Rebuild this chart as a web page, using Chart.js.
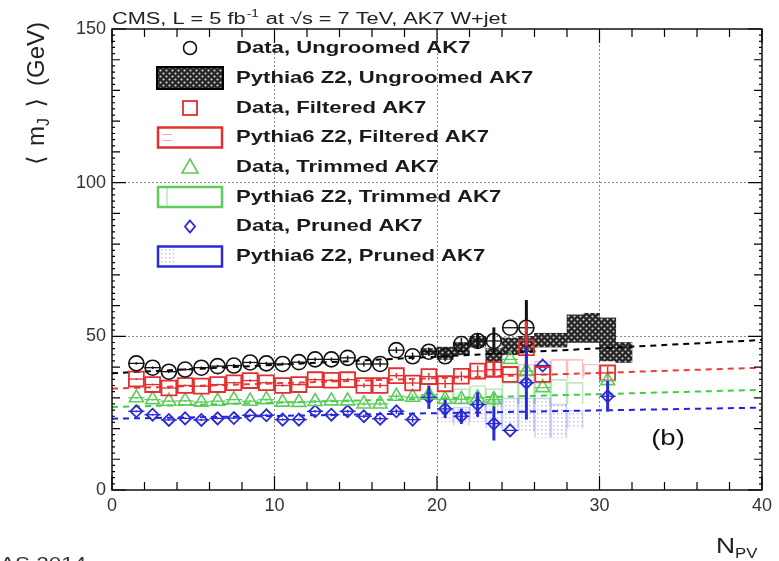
<!DOCTYPE html>
<html><head><meta charset="utf-8">
<script src="https://cdn.jsdelivr.net/npm/chart.js@4/dist/chart.umd.min.js"></script>
<style>html,body{margin:0;padding:0;background:#fff;}#wrap{width:779px;height:561px;position:relative;}</style>
</head><body><div id="wrap"><canvas id="c" width="779" height="561"></canvas></div>
<script>
// ---------------- data ----------------
const xTicks = [0, 10, 20, 30, 40];
const yTicks = [0, 50, 100, 150];

const npvUngroomed = [1.5,2.5,3.5,4.5,5.5,6.5,7.5,8.5,9.5,10.5,11.5,12.5,13.5,14.5,15.5,16.5,17.5,18.5,19.5,20.5,21.5,22.5,23.5,24.5,25.5];
const ungroomedData = [41.2,39.8,38.5,39.2,39.8,40.3,40.5,41.5,41.2,41.0,41.6,42.5,42.5,43.0,41.0,41.0,45.5,43.5,45.0,43.5,47.5,48.5,48.5,52.8,52.8];
const ungroomedErr  = [0.4,0.4,0.4,0.4,0.4,0.4,0.5,0.5,0.5,0.5,0.5,0.6,0.6,0.7,0.8,0.9,1.0,1.2,1.4,1.6,2.0,2.5,4.4,0,9.0];

const npvGroomed = [1.5,2.5,3.5,4.5,5.5,6.5,7.5,8.5,9.5,10.5,11.5,12.5,13.5,14.5,15.5,16.5,17.5,18.5,19.5,20.5,21.5,22.5,23.5,24.5,25.5,26.5,30.5];
const filteredData = [36.1,34.3,33.2,34.0,33.8,34.3,34.9,35.6,34.9,34.0,34.3,35.9,35.7,35.9,34.0,34.0,37.2,34.8,36.9,34.6,37.0,38.7,39.2,37.6,46.3,37.6,38.1];
const filteredErr  = [0.3,0.3,0.3,0.3,0.3,0.3,0.3,0.4,0.4,0.4,0.4,0.5,0.5,0.6,0.7,0.8,0.9,1.0,1.2,1.4,1.6,1.8,2.2,0,8.7,0,2.0];
const trimmedData  = [30.0,29.4,28.9,29.0,28.6,28.9,29.4,28.9,29.4,28.6,28.5,28.8,29.0,29.0,28.0,28.0,30.5,30.2,31.0,29.5,29.5,30.0,29.4,42.5,38.7,33.3,35.6];
const trimmedErr   = [0.3,0.3,0.3,0.3,0.3,0.3,0.3,0.3,0.4,0.4,0.4,0.5,0.5,0.5,0.6,0.7,0.8,1.0,1.2,1.4,1.6,2.0,2.5,0,3.0,0,2.0];
const prunedData   = [25.6,24.5,22.8,23.3,22.8,23.3,23.4,24.3,24.3,22.9,22.9,25.6,24.5,25.6,24.0,23.2,25.6,22.9,30.2,26.4,24.0,27.8,21.6,19.4,34.9,40.5,30.5];
const prunedErr    = [0.3,0.3,0.3,0.3,0.3,0.3,0.3,0.3,0.4,0.4,0.4,0.4,0.5,0.5,0.6,0.7,0.8,1.0,3.8,3.0,2.5,4.0,5.5,0,12.0,0,5.0];

// Pythia6 Z2 bands (low / high edge per NPV bin)
const mcBins = [19.5,20.5,21.5,22.5,23.5,24.5,25.5,26.5,27.5,28.5,29.5,30.5,31.5];
const mcUngroomedLo = [44.0,42.5,44.0,46.5,41.5,44.0,45.0,46.5,46.5,48.0,48.0,42.0,41.5];
const mcUngroomedHi = [46.0,46.5,48.0,50.0,46.0,49.5,50.0,51.0,51.0,57.0,57.5,56.0,48.0];
const mcFilteredLo  = [null,null,null,null,37.0,36.0,36.0,37.0,37.0,36.0,37.0,null,null];
const mcFilteredHi  = [null,null,null,null,39.0,40.0,41.0,42.0,42.5,42.5,41.0,null,null];
const mcTrimmedLo   = [29.0,28.0,28.0,28.0,27.0,28.0,28.0,28.0,27.0,28.0,null,null,null];
const mcTrimmedHi   = [31.0,32.0,33.0,34.0,33.0,35.0,36.0,35.0,36.0,35.0,null,null,null];
const mcPrunedLo    = [null,22.0,21.0,22.0,20.0,20.0,19.0,17.0,17.0,20.0,null,null,null];
const mcPrunedHi    = [null,26.0,27.0,28.0,29.0,30.0,30.0,30.0,28.0,26.0,null,null,null];

// linear fits (value at NPV=0 and NPV=40)
const fitUngroomed = [38.0, 48.8];
const fitFiltered  = [33.0, 39.8];
const fitTrimmed   = [27.0, 32.6];
const fitPruned    = [23.2, 26.8];

const legendLabels = ['Data, Ungroomed AK7','Pythia6 Z2, Ungroomed AK7','Data, Filtered AK7','Pythia6 Z2, Filtered AK7','Data, Trimmed AK7','Pythia6 Z2, Trimmed AK7','Data, Pruned AK7','Pythia6 Z2, Pruned AK7'];

// ---------------- styles ----------------
const C_BLACK = '#111', C_RED = '#e23030', C_GREEN = '#5ccc5c', C_BLUE = '#2a2ad6';
const FIT_RED = '#f03a3a', FIT_GREEN = '#3ad23a', FIT_BLUE = '#2222e6';
const FONT = '"Liberation Sans", Arial, sans-serif';

const cv = document.getElementById('c');
const mainCtx = cv.getContext('2d');
function makePattern(draw, w, h) {
  const c = document.createElement('canvas'); c.width = w; c.height = h;
  const g = c.getContext('2d'); draw(g); return mainCtx.createPattern(c, 'repeat');
}
const hatch = makePattern(g => {
  g.fillStyle = '#262626'; g.fillRect(0,0,6,6);
  g.fillStyle = '#d8d8d8';
  g.beginPath(); g.arc(1.5,1.5,1.1,0,7); g.fill();
  g.beginPath(); g.arc(4.5,4.5,1.1,0,7); g.fill();
}, 6, 6);
const blueDots = makePattern(g => {
  g.fillStyle = 'rgba(120,120,230,0.45)'; g.fillRect(1,1,1.5,1.5);
}, 4, 4);

function pts(xs, ys) { return xs.map((x,i)=>({x, y: ys[i]})).filter(p => p.y != null); }
function band(xs, lo, hi) { return xs.map((x,i)=>({x, y:[lo[i], hi[i]]})).filter(p => p.y[0] != null); }
function fit(f) { return [{x:0, y:f[0]}, {x:40, y:f[1]}]; }

const barCommon = {type:'bar', grouped:false, barPercentage:1, categoryPercentage:1, order:10};
const datasets = [
  Object.assign({}, barCommon, {label:'mcU', data: band(mcBins, mcUngroomedLo, mcUngroomedHi), backgroundColor: hatch, borderWidth:0}),
  Object.assign({}, barCommon, {label:'mcP', data: band(mcBins, mcPrunedLo, mcPrunedHi), backgroundColor: blueDots, borderColor:'rgba(120,120,235,0.35)', borderWidth:1}),
  Object.assign({}, barCommon, {label:'mcT', data: band(mcBins, mcTrimmedLo, mcTrimmedHi), backgroundColor:'rgba(0,0,0,0)', borderColor:'rgba(90,200,90,0.4)', borderWidth:1}),
  Object.assign({}, barCommon, {label:'mcF', data: band(mcBins, mcFilteredLo, mcFilteredHi), backgroundColor:'rgba(0,0,0,0)', borderColor:'rgba(235,90,90,0.35)', borderWidth:1}),
  {type:'line', label:'fitU', data: fit(fitUngroomed), borderColor:'#000', borderDash:[6,5], borderWidth:2, pointRadius:0, order:5},
  {type:'line', label:'fitF', data: fit(fitFiltered), borderColor:FIT_RED, borderDash:[6,5], borderWidth:2, pointRadius:0, order:5},
  {type:'line', label:'fitT', data: fit(fitTrimmed), borderColor:FIT_GREEN, borderDash:[6,5], borderWidth:2, pointRadius:0, order:5},
  {type:'line', label:'fitP', data: fit(fitPruned), borderColor:FIT_BLUE, borderDash:[6,5], borderWidth:2, pointRadius:0, order:5},
  {type:'line', label:legendLabels[0], data: pts(npvUngroomed, ungroomedData), errY: ungroomedErr, showLine:false, pointStyle:'circle', pointRadius:7.5, pointBorderWidth:1.6, pointBorderColor:C_BLACK, pointBackgroundColor:'rgba(0,0,0,0)', borderColor:C_BLACK, order:1},
  {type:'line', label:legendLabels[2], data: pts(npvGroomed, filteredData), errY: filteredErr, showLine:false, pointStyle:'rect', pointRadius:10.5, pointBorderWidth:1.8, pointBorderColor:C_RED, pointBackgroundColor:'rgba(0,0,0,0)', borderColor:C_RED, order:1},
  {type:'line', label:legendLabels[4], data: pts(npvGroomed, trimmedData), errY: trimmedErr, showLine:false, pointStyle:'triangle', pointRadius:8, pointBorderWidth:1.6, pointBorderColor:C_GREEN, pointBackgroundColor:'rgba(0,0,0,0)', borderColor:C_GREEN, order:1},
  {type:'line', label:legendLabels[6], data: pts(npvGroomed, prunedData), errY: prunedErr, showLine:false, pointStyle:'rectRot', pointRadius:6, pointBorderWidth:1.8, pointBorderColor:C_BLUE, pointBackgroundColor:'rgba(0,0,0,0)', borderColor:C_BLUE, order:1}
];

// -------------- helpers --------------
function sText(ctx, str, x, y, font, color, sx, align, base) {
  ctx.save(); ctx.font = font; ctx.fillStyle = color; ctx.textBaseline = base || 'alphabetic';
  ctx.translate(x, y); ctx.scale(sx, 1);
  const w = ctx.measureText(str).width;
  const dx = align === 'right' ? -w : align === 'center' ? -w/2 : 0;
  ctx.fillText(str, dx, 0); ctx.restore();
  return w * sx;
}

// error bars
const errorBars = {
  id: 'errorBars',
  afterDatasetsDraw(chart) {
    const ctx = chart.ctx, xs = chart.scales.x, ys = chart.scales.y;
    ctx.save();
    ctx.beginPath(); ctx.rect(chart.chartArea.left, chart.chartArea.top, chart.chartArea.right-chart.chartArea.left, chart.chartArea.bottom-chart.chartArea.top); ctx.clip();
    chart.data.datasets.forEach(ds => {
      if (!ds.errY) return;
      ds.data.forEach((p, i) => {
        const e = ds.errY[i];
        const px = xs.getPixelForValue(p.x), py = ys.getPixelForValue(p.y);
        ctx.strokeStyle = ds.borderColor;
        ctx.lineWidth = 1.3;
        ctx.beginPath();
        ctx.moveTo(xs.getPixelForValue(p.x - 0.5), py); ctx.lineTo(xs.getPixelForValue(p.x + 0.5), py);
        ctx.stroke();
        if (e > 0) {
          ctx.lineWidth = e > 2 ? 3 : 1.5;
          ctx.beginPath();
          ctx.moveTo(px, ys.getPixelForValue(p.y - e)); ctx.lineTo(px, ys.getPixelForValue(p.y + e));
          ctx.stroke();
        }
      });
    });
    ctx.restore();
  }
};

// frame, inward ticks, legend and texts
const decorations = {
  id: 'decorations',
  afterDraw(chart) {
    const ctx = chart.ctx, xs = chart.scales.x, ys = chart.scales.y, a = chart.chartArea;
    ctx.save();
    ctx.strokeStyle = '#000'; ctx.lineWidth = 1.4;
    ctx.strokeRect(a.left, a.top, a.right - a.left, a.bottom - a.top);
    ctx.lineWidth = 1.2;
    ctx.beginPath();
    for (let v = 0; v <= 40; v += 2) {
      const px = xs.getPixelForValue(v), L = (v % 10 === 0) ? 14 : 8;
      ctx.moveTo(px, a.bottom); ctx.lineTo(px, a.bottom - L);
      ctx.moveTo(px, a.top); ctx.lineTo(px, a.top + L);
    }
    for (let v = 0; v <= 150; v += 2) {
      const py = ys.getPixelForValue(v);
      const L = (v % 50 === 0) ? 14 : (v % 10 === 0 ? 8 : 3);
      ctx.moveTo(a.left, py); ctx.lineTo(a.left + L, py);
      ctx.moveTo(a.right, py); ctx.lineTo(a.right - L, py);
    }
    ctx.stroke();

    // title
    const tf = '16px ' + FONT, sx = 1.36;
    let x = a.left;
    x += sText(ctx, 'CMS, L = 5 fb', x, 24, tf, '#222', sx);
    x += sText(ctx, '-1', x + 1, 17, '10px ' + FONT, '#222', sx) + 2;
    x += sText(ctx, ' at ', x, 24, tf, '#222', sx);
    x += sText(ctx, '\u221As', x, 24, tf, '#222', sx);
    x += sText(ctx, ' = 7 TeV, AK7 W+jet', x, 24, tf, '#222', sx);

    // legend
    const lf = 'bold 17px ' + FONT, lsx = 1.3;
    const rowY = [48, 78, 108, 137.5, 167, 197, 226.5, 256.5];
    const mx = 190;
    legendLabels.forEach((t, i) => sText(ctx, t, 236, rowY[i], lf, '#1a1a1a', lsx, 'left', 'middle'));
    ctx.lineWidth = 1.6; ctx.strokeStyle = C_BLACK;
    ctx.beginPath(); ctx.arc(mx, rowY[0], 6.5, 0, Math.PI*2); ctx.stroke();
    ctx.fillStyle = hatch; ctx.fillRect(157, rowY[1]-11, 66, 22);
    ctx.lineWidth = 2; ctx.strokeStyle = '#000'; ctx.strokeRect(157, rowY[1]-11, 66, 22);
    ctx.lineWidth = 1.8; ctx.strokeStyle = C_RED; ctx.strokeRect(mx-7, rowY[2]-7, 14, 14);
    ctx.lineWidth = 2.5; ctx.strokeStyle = C_RED; ctx.strokeRect(158, rowY[3]-10, 64, 20);
    ctx.lineWidth = 1; ctx.strokeStyle = 'rgba(235,90,90,0.5)';
    ctx.beginPath(); ctx.moveTo(162, rowY[3]-3); ctx.lineTo(172, rowY[3]-3); ctx.moveTo(162, rowY[3]+3); ctx.lineTo(172, rowY[3]+3); ctx.stroke();
    ctx.lineWidth = 1.6; ctx.strokeStyle = C_GREEN;
    ctx.beginPath(); ctx.moveTo(mx, rowY[4]-8); ctx.lineTo(mx+8, rowY[4]+6); ctx.lineTo(mx-8, rowY[4]+6); ctx.closePath(); ctx.stroke();
    ctx.lineWidth = 2.5; ctx.strokeStyle = C_GREEN; ctx.strokeRect(158, rowY[5]-10, 64, 20);
    ctx.lineWidth = 1; ctx.strokeStyle = 'rgba(90,200,90,0.6)';
    ctx.beginPath(); ctx.moveTo(167, rowY[5]-9); ctx.lineTo(167, rowY[5]+9); ctx.stroke();
    ctx.lineWidth = 1.8; ctx.strokeStyle = C_BLUE;
    ctx.beginPath(); ctx.moveTo(mx, rowY[6]-6); ctx.lineTo(mx+5, rowY[6]); ctx.lineTo(mx, rowY[6]+6); ctx.lineTo(mx-5, rowY[6]); ctx.closePath(); ctx.stroke();
    ctx.fillStyle = blueDots; ctx.fillRect(160, rowY[7]-9, 14, 18);
    ctx.lineWidth = 2.5; ctx.strokeStyle = C_BLUE; ctx.strokeRect(158, rowY[7]-10, 64, 20);

    // (b)
    sText(ctx, '(b)', 668, 445, '22px ' + FONT, '#111', 1.25, 'center');

    // y axis title (rotated), fitted to span y = 165 .. 22
    ctx.save();
    const parts = [
      {s:'\u27E8', f:'20px "DejaVu Sans", ' + FONT, dy:0, gap:8},
      {s:'m', f:'20px ' + FONT, dy:0, gap:0},
      {s:'J', f:'13px ' + FONT, dy:4, gap:9},
      {s:'\u27E9', f:'20px "DejaVu Sans", ' + FONT, dy:0, gap:10},
      {s:'(GeV)', f:'20px ' + FONT, dy:0, gap:0}
    ];
    let total = 0;
    parts.forEach(p => { ctx.font = p.f; p.w = ctx.measureText(p.s).width; total += p.w + p.gap; });
    const along = 143 / total;
    ctx.translate(44, 165); ctx.rotate(-Math.PI/2); ctx.scale(along, 1.2);
    ctx.fillStyle = '#222'; ctx.textBaseline = 'alphabetic';
    let t = 0;
    parts.forEach(p => { ctx.font = p.f; ctx.fillText(p.s, t, p.dy); t += p.w + p.gap; });
    ctx.restore();

    // x axis title
    let nx = 716;
    nx += sText(ctx, 'N', nx, 553, '22px ' + FONT, '#222', 1.2);
    sText(ctx, 'PV', nx, 558, '14px ' + FONT, '#222', 1.2);

    // footer (partly cut)
    sText(ctx, 'AS 2014', 0, 570, '18px ' + FONT, '#333', 1.25);
    ctx.restore();
  }
};

new Chart(cv, {
  type: 'line',
  data: { datasets },
  options: {
    responsive: false, animation: false,
    layout: { padding: { top: 29, right: 17, left: 0, bottom: 0 } },
    plugins: { legend: { display: false }, tooltip: { enabled: false } },
    scales: {
      x: {
        type: 'linear', min: 0, max: 40, offset: false,
        afterBuildTicks: s => { s.ticks = xTicks.map(v => ({ value: v })); },
        afterFit: s => { s.height = 71; },
        ticks: { font: { size: 18, family: FONT }, color: '#333', padding: 5, maxRotation: 0 },
        grid: { offset: false, drawTicks: false, lineWidth: 1,
          color: c => (c.tick && c.tick.value > 0 && c.tick.value < 40) ? '#8a8a8a' : 'rgba(0,0,0,0)' },
        border: { display: false, dash: [2, 2] }
      },
      y: {
        type: 'linear', min: 0, max: 150,
        afterBuildTicks: s => { s.ticks = yTicks.map(v => ({ value: v })); },
        afterFit: s => { s.width = 112; },
        ticks: { font: { size: 18, family: FONT }, color: '#333', padding: 6 },
        grid: { drawTicks: false, lineWidth: 1,
          color: c => (c.tick && c.tick.value > 0 && c.tick.value < 150) ? '#8a8a8a' : 'rgba(0,0,0,0)' },
        border: { display: false, dash: [2, 2] }
      }
    }
  },
  plugins: [errorBars, decorations]
});
</script>
</body></html>
